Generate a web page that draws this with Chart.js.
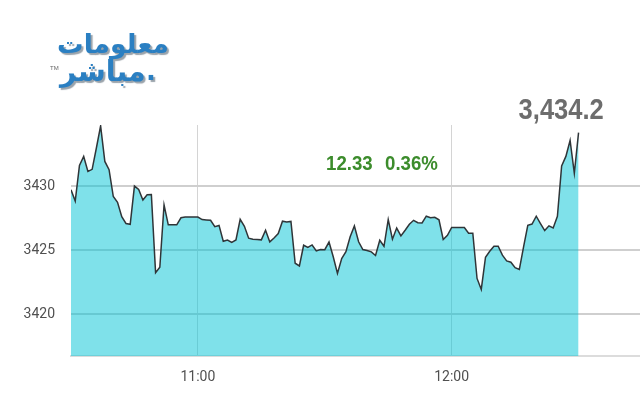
<!DOCTYPE html>
<html>
<head>
<meta charset="utf-8">
<script src="https://cdn.jsdelivr.net/npm/chart.js@4.4.1/dist/chart.umd.min.js"></script>
<style>
  html, body { margin:0; padding:0; background:#fff; width:640px; height:400px; overflow:hidden; }
  #wrap { position:relative; width:642px; height:400px; }
  canvas { position:absolute; left:0; top:0; }
  .logo1, .logo2, .dot { position:absolute; font-family:"DejaVu Sans", sans-serif; font-weight:bold; color:#2a7fc2;
    text-shadow: 2px 2px 1px #9aa3ab; direction:rtl; white-space:nowrap; line-height:1; }
  .logo1 { left:57px; top:31px; font-size:26.5px; }
  .logo2 { left:60px; top:58px; font-size:28.5px; }
  .dot { left:146px; top:58px; font-size:26px; }
  .tm { position:absolute; left:50px; top:65px; font-family:"Liberation Sans", sans-serif; font-size:6px; color:#666; }
  .last { position:absolute; right:38px; top:95px; font-family:"Liberation Sans", sans-serif; font-weight:bold;
    font-size:29px; line-height:1; color:#6d6d6d; transform:scaleX(0.88); transform-origin:right top; white-space:nowrap; }
  .chg { position:absolute; top:153px; font-family:"Liberation Sans", sans-serif; font-weight:bold;
    font-size:20.5px; line-height:1; color:#3c8c2c; transform:scaleX(0.91); transform-origin:left top; white-space:nowrap; }
</style>
</head>
<body>
<div id="wrap">
  <canvas id="c" width="642" height="400"></canvas>
  <div class="logo1">معلومات</div>
  <div class="logo2">مباشر</div>
  <div class="dot">.</div>
  <div class="tm">TM</div>
  <div class="last" id="last"></div>
  <div class="chg" id="chg1" style="left:326px"></div>
  <div class="chg" id="chg2" style="left:385px"></div>
</div>
<script>
// ---- data (one value per minute, starting 10:30) ----
const startTime = "10:30";
const axisEndTime = "12:45";
const indexValues = [
  3429.73, 3428.85, 3431.64, 3432.34, 3431.17, 3431.33, 3433.00, 3434.73, 3431.95, 3431.30,
  3429.20, 3428.75, 3427.62, 3427.09, 3427.03, 3430.02, 3429.75, 3428.93, 3429.34, 3429.35,
  3423.24, 3423.67, 3428.55, 3426.99, 3426.99, 3426.99, 3427.54, 3427.60, 3427.60, 3427.60,
  3427.60, 3427.40, 3427.37, 3427.34, 3426.84, 3426.94, 3425.70, 3425.80, 3425.61, 3425.80,
  3427.42, 3426.87, 3425.94, 3425.86, 3425.84, 3425.81, 3426.56, 3425.65, 3425.96, 3426.30,
  3427.27, 3427.20, 3427.25, 3423.98, 3423.77, 3425.39, 3425.22, 3425.41, 3424.95, 3425.05,
  3425.04, 3425.64, 3424.49, 3423.18, 3424.34, 3424.88, 3426.05, 3426.90, 3425.66, 3425.05,
  3424.98, 3424.87, 3424.59, 3425.78, 3425.31, 3427.40, 3425.86, 3426.73, 3426.12, 3426.56,
  3427.03, 3427.34, 3427.15, 3427.13, 3427.66, 3427.55, 3427.58, 3427.38, 3425.84, 3426.17,
  3426.78, 3426.78, 3426.78, 3426.78, 3426.33, 3426.33, 3422.79, 3421.93, 3424.45, 3424.92,
  3425.31, 3425.31, 3424.61, 3424.16, 3424.06, 3423.63, 3423.49, 3425.26, 3426.95, 3427.05,
  3427.66, 3427.09, 3426.54, 3426.91, 3426.74, 3427.66, 3431.60, 3432.34, 3433.59, 3431.02,
  3434.20
];
const yTicks = [3420, 3425, 3430];
const xTickTimes = ["11:00", "12:00"];
const lastValueText = "3,434.2";
const changeValue = "12.33";
const changePercent = "0.36%";
const yMin = 3416.72;
const yMax = 3434.8;

function toMin(t) { const p = t.split(":"); return (+p[0]) * 60 + (+p[1]); }
function toTime(m) { const h = Math.floor(m / 60), mm = Math.round(m % 60); return h + ":" + String(mm).padStart(2, "0"); }

const start = toMin(startTime);
const points = indexValues.map((v, i) => ({ x: start + i, y: v }));

document.getElementById("last").textContent = lastValueText;
document.getElementById("chg1").textContent = changeValue;
document.getElementById("chg2").textContent = changePercent;

const tickFont = { family: "Roboto", size: 14 };

new Chart(document.getElementById("c"), {
  type: "line",
  data: {
    datasets: [{
      data: points,
      borderColor: "#2f3538",
      borderWidth: 1.5,
      backgroundColor: "rgba(0,196,214,0.5)",
      fill: "start",
      pointRadius: 0,
      tension: 0
    }]
  },
  options: {
    responsive: false,
    animation: false,
    events: [],
    layout: { padding: { top: 125, left: 0, right: 0, bottom: 0 } },
    plugins: { legend: { display: false }, tooltip: { enabled: false } },
    scales: {
      x: {
        type: "linear",
        min: start,
        max: toMin(axisEndTime),
        afterBuildTicks: s => { s.ticks = xTickTimes.map(t => ({ value: toMin(t) })); },
        afterFit: s => { s.height = 44; },
        grid: { color: "#d4d4d4", lineWidth: 1, drawTicks: false },
        border: { display: true, color: "#dcdcdc", width: 2 },
        ticks: { font: tickFont, color: "#505050", padding: 13, maxRotation: 0,
          callback: v => toTime(v) }
      },
      y: {
        min: yMin,
        max: yMax,
        afterBuildTicks: s => { s.ticks = yTicks.map(v => ({ value: v })); },
        afterFit: s => { s.width = 71; },
        grid: { color: "#cfcfcf", lineWidth: 2, drawTicks: false },
        border: { display: false },
        ticks: { font: tickFont, color: "#505050", padding: 16, callback: v => String(v) }
      }
    }
  }
});
</script>
</body>
</html>
